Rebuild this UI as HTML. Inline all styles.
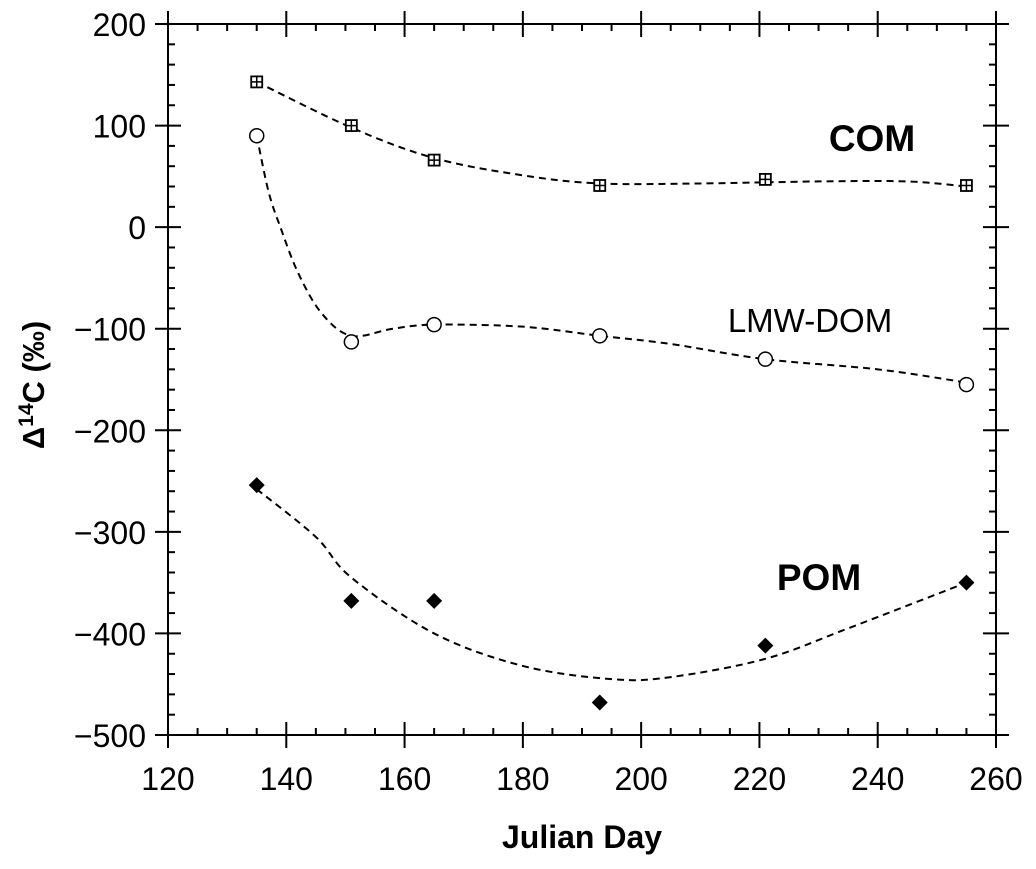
<!DOCTYPE html>
<html><head><meta charset="utf-8"><style>
body{margin:0;background:#fff;}
svg text{font-family:"Liberation Sans",Arial,sans-serif;fill:#000;}
</style></head><body>
<svg id="chart" width="1036" height="864" xmlns="http://www.w3.org/2000/svg"></svg>
<script>
const days = [135, 151, 165, 193, 221, 255];
const comValues = [143, 100, 66, 41, 47, 41];
const lmwValues = [90, -113, -96, -107, -130, -155];
const pomValues = [-254, -368, -368, -468, -412, -350];
const comFitX = [135, 151, 165, 180, 193, 210, 230, 245, 255];
const comFitY = [143, 98, 68, 51, 43, 43, 45, 45, 40];
const lmwFitX = [135, 137, 139, 142, 146, 151, 158, 165, 180, 193, 205, 221, 240, 255];
const lmwFitY = [90, 35, 0, -45, -85, -107, -100, -96, -98, -107, -115, -130, -140, -153];
const pomFitX = [135, 145, 151, 165, 180, 195, 205, 221, 235, 255];
const pomFitY = [-258, -305, -345, -400, -432, -445, -443, -425, -395, -350];
const xTicks = [120, 140, 160, 180, 200, 220, 240, 260];
const yTicks = [200, 100, 0, -100, -200, -300, -400, -500];

const L = 168, R = 996, T = 24, B = 735;
const sx = v => L + (v - 120) / 140 * (R - L);
const sy = v => T + (200 - v) / 700 * (B - T);
const svg = document.getElementById('chart');
const NS = 'http://www.w3.org/2000/svg';
function mk(tag, attrs, parent) {
  const e = document.createElementNS(NS, tag);
  for (const k in attrs) e.setAttribute(k, attrs[k]);
  (parent || svg).appendChild(e);
  return e;
}
const frame = mk('rect', {x: L, y: T, width: R - L, height: B - T, fill: 'none', stroke: '#000', 'stroke-width': 2});



const axG = mk('g', {});


for (let v = 120; v <= 260; v += 5) {
  if (v % 20 === 0) continue;
  const x = sx(v);
  mk('line', {x1: x, x2: x, y1: B - 7, y2: B, stroke: '#000', 'stroke-width': 2}, axG);
  mk('line', {x1: x, x2: x, y1: T, y2: T + 7, stroke: '#000', 'stroke-width': 2}, axG);
}
for (let v = -500; v <= 200; v += 20) {
  if (v % 100 === 0) continue;
  const y = sy(v);
  mk('line', {x1: L, x2: L + 7, y1: y, y2: y, stroke: '#000', 'stroke-width': 2}, axG);
  mk('line', {x1: R - 7, x2: R, y1: y, y2: y, stroke: '#000', 'stroke-width': 2}, axG);
}
xTicks.forEach(v => {
  const x = sx(v);
  mk('line', {x1: x, x2: x, y1: B - 13, y2: B + 13, stroke: '#000', 'stroke-width': 2}, axG);
  mk('line', {x1: x, x2: x, y1: T - 13, y2: T + 13, stroke: '#000', 'stroke-width': 2}, axG);
  const t = mk('text', {x: x, y: 790, 'font-size': 32, 'text-anchor': 'middle'}, axG);
  t.textContent = v;
  
  
});
yTicks.forEach(v => {
  const y = sy(v);
  mk('line', {x1: L - 13, x2: L + 13, y1: y, y2: y, stroke: '#000', 'stroke-width': 2}, axG);
  mk('line', {x1: R - 13, x2: R + 13, y1: y, y2: y, stroke: '#000', 'stroke-width': 2}, axG);
  const t = mk('text', {x: L - 22, y: y + 12, 'font-size': 32, 'text-anchor': 'end'}, axG);
  t.textContent = v < 0 ? '\u2212' + Math.abs(v) : v;
  
  
});
const xt = mk('text', {x: 582, y: 848, 'font-size': 32, 'font-weight': 'bold', 'text-anchor': 'middle'});
xt.textContent = 'Julian Day';


const yt = mk('text', {x: 0, y: 0, 'font-size': 31, 'font-weight': 'bold', 'text-anchor': 'middle', transform: 'translate(44,385) rotate(-90)'});
yt.innerHTML = '\u0394<tspan dy="-11" font-size="21">14</tspan><tspan dy="11">C (\u2030)</tspan>';



function curve(xs, ys, name) {
  const pts = xs.map((x, i) => [sx(x), sy(ys[i])]);
  let d = 'M' + pts[0][0] + ',' + pts[0][1];
  for (let i = 0; i < pts.length - 1; i++) {
    const p0 = pts[Math.max(0, i - 1)], p1 = pts[i], p2 = pts[i + 1], p3 = pts[Math.min(pts.length - 1, i + 2)];
    const c1 = [p1[0] + (p2[0] - p0[0]) / 6, p1[1] + (p2[1] - p0[1]) / 6];
    const c2 = [p2[0] - (p3[0] - p1[0]) / 6, p2[1] - (p3[1] - p1[1]) / 6];
    d += ' C' + c1 + ' ' + c2 + ' ' + p2;
  }
  const p = mk('path', {d: d, fill: 'none', stroke: '#000', 'stroke-width': 2, 'stroke-dasharray': '7,5'});
  
  
}
curve(comFitX, comFitY, 'com-fit-line');
curve(lmwFitX, lmwFitY, 'lmw-dom-fit-line');
curve(pomFitX, pomFitY, 'pom-fit-line');

days.forEach((d, i) => {
  const x = sx(d);
  let y = sy(comValues[i]);
  const g = mk('g', {});
  
  
  mk('rect', {x: x - 5.5, y: y - 5.5, width: 11, height: 11, fill: '#fff', stroke: '#000', 'stroke-width': 1.8}, g);
  mk('path', {d: `M${x - 5.5},${y}H${x + 5.5}M${x},${y - 5.5}V${y + 5.5}`, stroke: '#000', 'stroke-width': 1.5}, g);
  y = sy(lmwValues[i]);
  const c = mk('circle', {cx: x, cy: y, r: 7, fill: '#fff', stroke: '#000', 'stroke-width': 1.5});
  
  
  y = sy(pomValues[i]);
  const dm = mk('path', {d: `M${x},${y - 8}L${x + 8},${y}L${x},${y + 8}L${x - 8},${y}Z`, fill: '#000'});
  
  
});

function label(txt, x, y, bold, name, fs) {
  const t = mk('text', {x: x, y: y, 'font-size': fs, 'font-weight': bold ? 'bold' : 'normal', 'text-anchor': 'middle'});
  t.textContent = txt;
  
  
}
label('COM', 872, 151, true, 'com-label', 37);
label('LMW-DOM', 810, 332, false, 'lmw-dom-label', 33);
label('POM', 819, 590, true, 'pom-label', 37);
</script>
</body></html>
